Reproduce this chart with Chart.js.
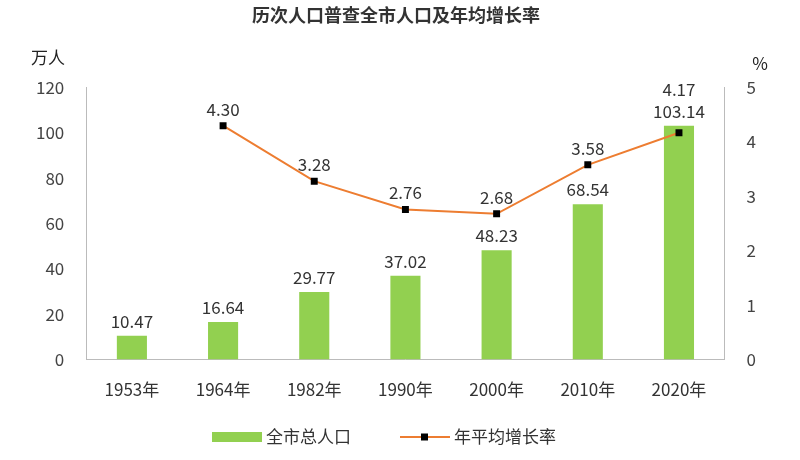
<!DOCTYPE html>
<html><head><meta charset="utf-8">
<script src="https://cdn.jsdelivr.net/npm/chart.js@4/dist/chart.umd.min.js"></script>
<style>body{margin:0;background:#fff}#w{width:800px;height:460px}</style>
</head><body><div id="w"><canvas id="c"></canvas></div>
<script>
const categories=['1953年','1964年','1982年','1990年','2000年','2010年','2020年'];
const population=[10.47,16.64,29.77,37.02,48.23,68.54,103.14];
const growth=[null,4.30,3.28,2.76,2.68,3.58,4.17];
const leftTicks=[0,20,40,60,80,100,120];
const F='"Noto Sans CJK SC","Noto Sans",sans-serif';
const labels={id:'lbl',afterDatasetsDraw(ch){
  const c=ch.ctx;c.save();c.font='17px '+F;c.fillStyle='#333';c.textAlign='center';c.textBaseline='bottom';
  const bars=ch.getDatasetMeta(0).data;
  bars.forEach((b,i)=>c.fillText(population[i].toFixed(2),b.x,b.y-6));
  ch.getDatasetMeta(1).data.forEach((p,i)=>{if(growth[i]==null)return;
    let y=p.y-8; if(i===bars.length-1) y=bars[i].y-28;
    c.fillText(growth[i].toFixed(2),p.x,y);});
  c.fillStyle='#222';
  c.fillText('万人',48,66);c.fillText('%',760,72);
  // legend
  const ly=437;c.textAlign='left';c.textBaseline='middle';
  c.fillStyle='#92d050';c.fillRect(212,ly-5,50,10);
  c.fillStyle='#333';c.fillText('全市总人口',266,ly);
  c.strokeStyle='#ed7d31';c.lineWidth=2;c.beginPath();c.moveTo(400,ly);c.lineTo(450,ly);c.stroke();
  c.fillStyle='#000';c.fillRect(421,ly-3.5,7,7);
  c.fillStyle='#333';c.fillText('年平均增长率',454,ly);
  c.restore();}};
new Chart(document.getElementById('c'),{
 data:{labels:categories,datasets:[
  {type:'bar',label:'全市总人口',data:population,backgroundColor:'#92d050',barPercentage:0.33,categoryPercentage:1,yAxisID:'y',order:2},
  {type:'line',label:'年平均增长率',data:growth,borderColor:'#ed7d31',borderWidth:2,pointStyle:'rect',pointRadius:3.5,pointBackgroundColor:'#000',pointBorderColor:'#000',yAxisID:'y1',order:1}]},
 options:{responsive:true,maintainAspectRatio:false,animation:false,
  layout:{padding:{left:22,right:30,top:0,bottom:48}},
  plugins:{title:{display:true,text:'历次人口普查全市人口及年均增长率',font:{family:F,size:18,weight:'bold'},color:'#333',padding:{top:4,bottom:62}},
   legend:{display:false},tooltip:{enabled:false}},
  scales:{
   x:{grid:{display:false},border:{color:'#bbb'},ticks:{font:{family:F,size:17},color:'#333',padding:12}},
   y:{position:'left',min:0,max:120,afterBuildTicks:a=>{a.ticks=leftTicks.map(v=>({value:v}))},grid:{display:false},border:{color:'#bbb'},ticks:{font:{family:F,size:17},color:'#444',padding:14}},
   y1:{position:'right',min:0,max:5,grid:{display:false},border:{color:'#bbb'},ticks:{stepSize:1,font:{family:F,size:17},color:'#444',padding:14}}
  }},
 plugins:[labels]});
</script></body></html>
